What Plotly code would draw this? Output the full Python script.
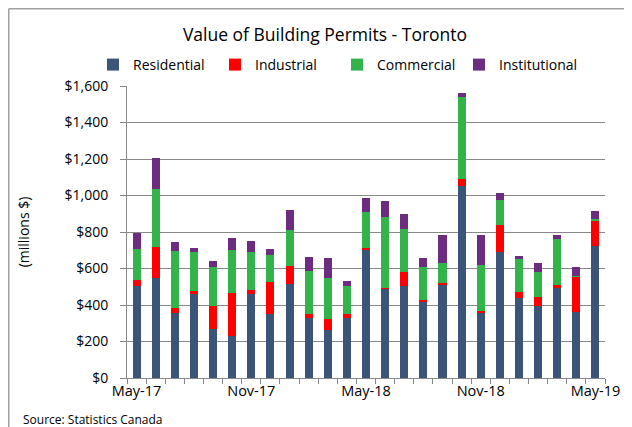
import plotly.graph_objects as go

months = ["May-17", "Jun-17", "Jul-17", "Aug-17", "Sep-17", "Oct-17", "Nov-17", "Dec-17",
          "Jan-18", "Feb-18", "Mar-18", "Apr-18", "May-18", "Jun-18", "Jul-18", "Aug-18",
          "Sep-18", "Oct-18", "Nov-18", "Dec-18", "Jan-19", "Feb-19", "Mar-19", "Apr-19", "May-19"]
residential = [506, 550, 358, 458, 270, 232, 458, 352, 517, 330, 261, 327, 699,
               489, 504, 416, 513, 1050, 359, 691, 440, 394, 495, 363, 722]
industrial = [33, 169, 24, 20, 126, 235, 26, 176, 98, 22, 64, 25, 15,
              2, 79, 13, 6, 39, 6, 150, 33, 51, 16, 192, 141]
commercial = [170, 318, 315, 214, 214, 236, 208, 148, 198, 236, 225, 154, 197,
              389, 236, 181, 113, 451, 256, 132, 181, 138, 248, 6, 6]
institutional = [87, 170, 50, 22, 33, 66, 60, 32, 109, 77, 109, 27, 77,
                 88, 77, 50, 149, 22, 165, 39, 17, 49, 27, 49, 44]
y_ticks = [0, 200, 400, 600, 800, 1000, 1200, 1400, 1600]

series = [("Residential", residential, "#3A5578"),
          ("Industrial", industrial, "#FF0000"),
          ("Commercial", commercial, "#33B44A"),
          ("Institutional", institutional, "#6C2D80")]

FONT = "Open Sans"
x = list(range(len(months)))

fig = go.Figure()
for name, vals, color in series:
    fig.add_trace(go.Bar(x=x, y=vals, name=name, marker=dict(color=color, line=dict(width=0)),
                         width=0.42))

# page body has an 8px margin, so the figure is offset by 8px
OFF = 8
W, H = 632 - OFF, 427 - OFF
L, T = 127 - OFF, 86 - OFF
R, B = W - (605 - OFF), H - (378 - OFF)
pw, ph = W - L - R, H - T - B

def px_x(p):
    return (p - OFF - L) / pw

def px_y(p):
    return (H - B - (p - OFF)) / ph

label_idx = x[::6]
fig.update_layout(
    width=W, height=H,
    margin=dict(l=L, r=R, t=T, b=B, autoexpand=False),
    paper_bgcolor="white", plot_bgcolor="white",
    barmode="stack",
    font=dict(family=FONT, color="#000000"),
    title=dict(text="Value of Building Permits - Toronto", x=(325 - OFF) / W, xanchor="center",
               y=1 - (35 - OFF) / H, yanchor="middle", xref="container", yref="container",
               font=dict(size=17.5, family=FONT, color="#000")),
    legend=dict(orientation="h", x=px_x(93), y=px_y(65), xanchor="left", yanchor="middle",
                font=dict(size=14, family=FONT), entrywidth=77, entrywidthmode="pixels",
                traceorder="normal", bgcolor="rgba(0,0,0,0)"),
    showlegend=True,
    xaxis=dict(range=[-0.5, len(months) - 0.5], tickmode="array", tickvals=label_idx,
               ticktext=[months[i] for i in label_idx], ticks="", showgrid=False,
               showline=True, linecolor="#888888", linewidth=1,
               tickfont=dict(size=14.5, family=FONT),
               minor=dict(tick0=-0.5, dtick=1, ticks="outside", ticklen=5, tickcolor="#888888",
                          showgrid=False)),
    yaxis=dict(range=[0, 1600], tickmode="array", tickvals=y_ticks,
               ticktext=["${:,}".format(v) for v in y_ticks],
               ticks="outside", ticklen=6, tickcolor="#888888", ticklabelstandoff=9,
               showgrid=True, gridcolor="#888888", gridwidth=1,
               showline=True, linecolor="#888888", linewidth=1,
               zeroline=False, tickfont=dict(size=14, family=FONT),
               title=dict(text="(millions $)", font=dict(size=14, family=FONT), standoff=31)),
    annotations=[dict(text="Source: Statistics Canada", xref="paper", yref="paper",
                      x=px_x(21), y=px_y(419), xanchor="left", yanchor="middle",
                      showarrow=False, font=dict(size=12, family=FONT))],
    shapes=[dict(type="line", xref="paper", yref="paper", x0=px_x(8.75), x1=px_x(640),
                 y0=px_y(8.75), y1=px_y(8.75), line=dict(color="#A0A0A0", width=1.5)),
            dict(type="line", xref="paper", yref="paper", x0=px_x(8.75), x1=px_x(8.75),
                 y0=px_y(8.75), y1=px_y(440), line=dict(color="#A0A0A0", width=1.5))],
)

fig.write_html("out.html")
